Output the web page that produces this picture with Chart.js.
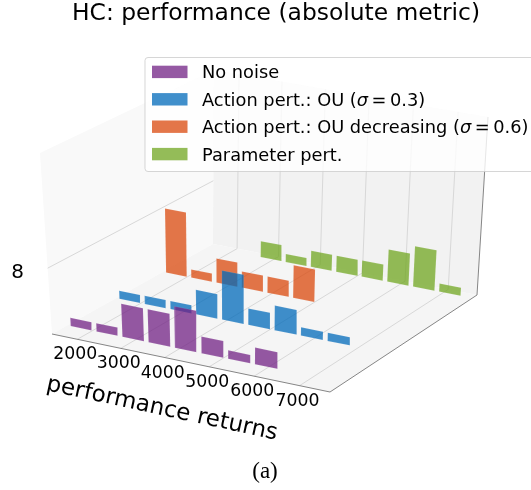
<!DOCTYPE html>
<html>
<head>
<meta charset="utf-8">
<title>HC: performance (absolute metric)</title>
<script src="https://cdn.jsdelivr.net/npm/chart.js@4"></script>
<style>
    html, body { margin: 0; padding: 0; background: #fff; }
    canvas { display: block; }
</style>
</head>
<body>
<canvas id="chart" width="531" height="490"></canvas>
<script>
// Left edge of every histogram bin, and the bar width in return units
const binLefts = [1488, 2089, 2690, 3291, 3892, 4493, 5094, 5695, 6296, 6897];
const binWidth = 495;

// Bin counts per noise type
const noNoise = [1, 1, 4, 4, 5, 2, 1, 2, 0, 0];
const ouFixed = [1, 1, 1, 3, 6, 2, 3, 1, 1, 0];
const ouDecreasing = [8, 1, 3, 2, 2, 4, 0, 0, 0, 0];
const paramPert = [0, 0, 2, 1, 2, 2, 2, 4, 5, 1];

const xTicks = [2000, 3000, 4000, 5000, 6000, 7000];
const zTicks = [8];

const seriesValues = [noNoise, ouFixed, ouDecreasing, paramPert];
const seriesColors = ['rgba(113,33,132,0.75)', 'rgba(0,105,185,0.75)', 'rgba(218,72,12,0.75)', 'rgba(112,165,32,0.75)'];

// Legend lines, split so sigma can be set in italics
const legendLines = [
    [['No noise', false]],
    [['Action pert.: OU (', false], ['σ', true], ['\u2009=\u20090.3)', false]],
    [['Action pert.: OU decreasing (', false], ['σ', true], ['\u2009=\u20090.6)', false]],
    [['Parameter pert.', false]]
];

// Axis limits of the 3D box
const xLim = [1412.5, 7662.5];
const yLim = [-0.308, 3.116];
const zLim = [0, 22];

// Where the box corners land on the page: front left, front right, back right, back left
const floorCorners = [[52, 334], [330, 392], [477, 295], [213, 244]];
const topCorners = [[40, 153], [337, 208], [488, 117], [214, 70]];

// Unit square to floor quad
function makeHomography(q) {
    const dx1 = q[1][0] - q[2][0], dx2 = q[3][0] - q[2][0], sx = q[0][0] - q[1][0] + q[2][0] - q[3][0];
    const dy1 = q[1][1] - q[2][1], dy2 = q[3][1] - q[2][1], sy = q[0][1] - q[1][1] + q[2][1] - q[3][1];
    const den = dx1 * dy2 - dx2 * dy1;
    const g = (sx * dy2 - dx2 * sy) / den;
    const h = (dx1 * sy - sx * dy1) / den;
    return (u, v) => {
        const w = 1 + g * u + h * v;
        return [
            (q[0][0] + (q[1][0] * (1 + g) - q[0][0]) * u + (q[3][0] * (1 + h) - q[0][0]) * v) / w,
            (q[0][1] + (q[1][1] * (1 + g) - q[0][1]) * u + (q[3][1] * (1 + h) - q[0][1]) * v) / w
        ];
    };
}
const floorAt = makeHomography(floorCorners);

function project(x, y, z) {
    const u = (x - xLim[0]) / (xLim[1] - xLim[0]);
    const v = (y - yLim[0]) / (yLim[1] - yLim[0]);
    const f = (z - zLim[0]) / (zLim[1] - zLim[0]);
    const p = floorAt(u, v);
    const rise = [0, 1].map(k => {
        const d = i => topCorners[i][k] - floorCorners[i][k];
        return (1 - v) * ((1 - u) * d(0) + u * d(1)) + v * ((1 - u) * d(3) + u * d(2));
    });
    return { x: p[0] + rise[0] * f, y: p[1] + rise[1] * f };
}

// One closed polygon per non empty bin
const datasets = [];
seriesValues.forEach((values, row) => {
    values.forEach((count, i) => {
        if (!count) return;
        const x0 = binLefts[i], x1 = binLefts[i] + binWidth;
        datasets.push({
            data: [project(x0, row, 0), project(x1, row, 0), project(x1, row, count), project(x0, row, count), project(x0, row, 0)],
            showLine: true,
            fill: 'shape',
            backgroundColor: seriesColors[row],
            borderColor: 'rgba(255,255,255,0.15)',
            borderWidth: 0.6,
            pointRadius: 0,
            tension: 0
        });
    });
});

function polygon(ctx, pts, color) {
    ctx.beginPath();
    pts.forEach((p, i) => i ? ctx.lineTo(p.x, p.y) : ctx.moveTo(p.x, p.y));
    ctx.closePath();
    ctx.fillStyle = color;
    ctx.fill();
}

function segment(ctx, a, b, color, width) {
    ctx.beginPath();
    ctx.moveTo(a.x, a.y);
    ctx.lineTo(b.x, b.y);
    ctx.strokeStyle = color;
    ctx.lineWidth = width;
    ctx.stroke();
}

// Panes, grid and axis lines go under the bars
const boxPlugin = {
    id: 'box',
    beforeDatasetsDraw(chart) {
        const ctx = chart.ctx;
        const [x0, x1] = xLim, [y0, y1] = yLim, [z0, z1] = zLim;
        ctx.save();
        polygon(ctx, [project(x0, y0, z0), project(x0, y1, z0), project(x0, y1, z1), project(x0, y0, z1)], 'rgb(249,249,249)');
        polygon(ctx, [project(x0, y1, z0), project(x1, y1, z0), project(x1, y1, z1), project(x0, y1, z1)], 'rgb(242,242,242)');
        polygon(ctx, [project(x0, y0, z0), project(x1, y0, z0), project(x1, y1, z0), project(x0, y1, z0)], 'rgb(245,245,245)');
        const grid = 'rgb(216,216,216)';
        xTicks.forEach(t => {
            segment(ctx, project(t, y0, z0), project(t, y1, z0), grid, 1);
            segment(ctx, project(t, y1, z0), project(t, y1, z1), grid, 1);
        });
        zTicks.forEach(t => segment(ctx, project(x0, y0, t), project(x0, y1, t), grid, 1));
        const axis = 'rgb(120,120,120)';
        segment(ctx, project(x0, y0, z0), project(x1, y0, z0), axis, 0.9);
        segment(ctx, project(x1, y0, z0), project(x1, y1, z0), axis, 0.9);
        segment(ctx, project(x1, y1, z0), project(x1, y1, z1), axis, 0.9);
        ctx.restore();
    },
    afterDatasetsDraw(chart) {
        const ctx = chart.ctx;
        ctx.save();
        ctx.fillStyle = '#000';
        ctx.textBaseline = 'alphabetic';

        ctx.textAlign = 'center';
        ctx.font = '23.4px "DejaVu Sans"';
        ctx.fillText('HC: performance (absolute metric)', 276, 20);

        ctx.font = '17.3px "DejaVu Sans"';
        ctx.textBaseline = 'middle';
        xTicks.forEach(t => {
            const p = project(t, yLim[0], 0);
            ctx.fillText(String(t), p.x - 2, p.y + 15.5);
        });
        ctx.font = '20px "DejaVu Sans"';
        zTicks.forEach(t => ctx.fillText(String(t), 17.5, 273));

        ctx.save();
        ctx.translate(162, 409);
        ctx.rotate(12.2 * Math.PI / 180);
        ctx.font = '22.9px "DejaVu Sans"';
        ctx.fillText('performance returns', 0, 0);
        ctx.restore();

        ctx.textBaseline = 'alphabetic';
        ctx.font = '23px "Liberation Serif"';
        ctx.fillText('(a)', 265, 478);

        // Legend box runs off the right side, same as the original
        ctx.beginPath();
        ctx.roundRect(145, 57.5, 400, 114, 3);
        ctx.fillStyle = 'rgba(255,255,255,0.8)';
        ctx.fill();
        ctx.strokeStyle = 'rgba(204,204,204,0.8)';
        ctx.lineWidth = 1;
        ctx.stroke();
        ctx.textAlign = 'left';
        legendLines.forEach((parts, i) => {
            const base = 78.3 + i * 27.4;
            ctx.fillStyle = seriesColors[i];
            ctx.fillRect(152, base - 12.6, 35.5, 12.4);
            ctx.fillStyle = '#000';
            let x = 202;
            parts.forEach(([text, italic]) => {
                ctx.font = (italic ? 'italic ' : '') + '17.8px "DejaVu Sans"';
                ctx.fillText(text, x, base);
                x += ctx.measureText(text).width;
            });
        });
        ctx.restore();
    }
};

new Chart(document.getElementById('chart'), {
    type: 'scatter',
    data: { datasets: datasets },
    options: {
        responsive: false,
        animation: false,
        devicePixelRatio: 1,
        layout: { padding: 0 },
        plugins: {
            legend: { display: false },
            title: { display: false },
            tooltip: { enabled: false }
        },
        // Both scales are page pixels, the projection above does the 3D part
        scales: {
            x: { type: 'linear', display: false, min: 0, max: 531 },
            y: { type: 'linear', display: false, min: 0, max: 490, reverse: true }
        }
    },
    plugins: [boxPlugin]
});
</script>
</body>
</html>
